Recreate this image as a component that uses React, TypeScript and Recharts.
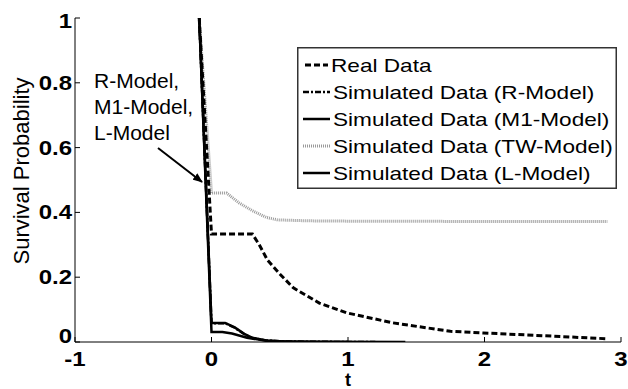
import React from "react";
import { LineChart, Line, XAxis, YAxis } from "recharts";

// ---- data ----
const realT = [-0.09, 0, 0.3, 0.35, 0.41, 0.5, 0.6, 0.79, 0.99, 1.33, 1.75, 1.99, 2.5, 2.9];
const realV = [1, 0.333, 0.333, 0.3, 0.253, 0.21, 0.167, 0.12, 0.09, 0.059, 0.033, 0.028, 0.018, 0.01];

const rT = [-0.09, 0, 0.1, 0.17, 0.24, 0.3, 0.4, 0.5, 0.8, 1.2];
const rV = [1, 0.058, 0.058, 0.044, 0.024, 0.012, 0.005, 0.002, 0.0005, 0];

const m1T = [-0.09, 0, 0.1, 0.17, 0.24, 0.3, 0.4, 0.5, 0.8, 1.42];
const m1V = [1, 0.059, 0.059, 0.045, 0.025, 0.013, 0.005, 0.002, 0.0005, 0];

const twT = [-0.09, 0, 0.11, 0.2, 0.3, 0.4, 0.48, 0.7, 1.0, 2.0, 2.9];
const twV = [1, 0.46, 0.46, 0.43, 0.405, 0.385, 0.377, 0.374, 0.373, 0.372, 0.372];

const lT = [-0.09, 0, 0.08, 0.15, 0.26, 0.4, 0.6, 1.0];
const lV = [1, 0.031, 0.031, 0.026, 0.013, 0.004, 0.001, 0];

const tTicks = [-1, 0, 1, 2, 3];
const pTicks = [0, 0.2, 0.4, 0.6, 0.8, 1];

const seriesNames = [
  "Real Data",
  "Simulated Data (R-Model)",
  "Simulated Data (M1-Model)",
  "Simulated Data (TW-Model)",
  "Simulated Data (L-Model)",
];
const annotationLines = ["R-Model,", "M1-Model,", "L-Model"];

const zip = (ts: number[], vs: number[]) => ts.map((t, i) => ({ t, v: vs[i] }));
const realData = zip(realT, realV);
const rData = zip(rT, rV);
const m1Data = zip(m1T, m1V);
const twData = zip(twT, twV);
const lData = zip(lT, lV);

const FONT = "'Liberation Sans', Arial, sans-serif";

const styles = [
  { stroke: "#000", width: 3, dash: "6 3" },
  { stroke: "#000", width: 2.5, dash: "6 2 2 2" },
  { stroke: "#000", width: 2.5, dash: undefined as string | undefined },
  { stroke: "#9a9a9a", width: 3, dash: "1 1" },
  { stroke: "#000", width: 2.5, dash: undefined as string | undefined },
];

const BottomTick = (props: any) => {
  const { x, y, payload } = props;
  return (
    <g>
      <line x1={x} y1={y} x2={x} y2={y - 5} stroke="#000" strokeWidth={1} />
      <text
        transform={`translate(${x},${y + 24}) scale(1.2,1)`}
        textAnchor="middle"
        fontFamily={FONT}
        fontWeight="bold"
        fontSize={20}
        fill="#000"
      >
        {String(payload.value)}
      </text>
    </g>
  );
};

const TopTick = (props: any) => {
  const { x, y } = props;
  return <line x1={x} y1={y} x2={x} y2={y + 5} stroke="#000" strokeWidth={1} />;
};

const LeftTick = (props: any) => {
  const { x, y, payload } = props;
  let dy = 7;
  if (payload.value === 0) dy = 1;
  if (payload.value === 1) dy = 10;
  return (
    <g>
      <line x1={x} y1={y} x2={x + 5} y2={y} stroke="#000" strokeWidth={1} />
      <text
        transform={`translate(${x - 3},${y + dy}) scale(1.2,1)`}
        textAnchor="end"
        fontFamily={FONT}
        fontWeight="bold"
        fontSize={20}
        fill="#000"
      >
        {String(payload.value)}
      </text>
    </g>
  );
};

const RightTick = (props: any) => {
  const { x, y } = props;
  return <line x1={x} y1={y} x2={x - 5} y2={y} stroke="#000" strokeWidth={1} />;
};

const LegendBox = () => {
  const rowY = [18, 45, 72, 99, 126];
  return (
    <svg width={320} height={142} style={{ display: "block" }}>
      <rect x={0.75} y={0.75} width={318.5} height={140.5} fill="#fff" stroke="#333" strokeWidth={1.5} />
      {seriesNames.map((name, i) => (
        <g key={name}>
          <line
            x1={i === 0 ? 8 : 6}
            x2={i === 0 ? 31 : 33}
            y1={rowY[i]}
            y2={rowY[i]}
            stroke={styles[i].stroke}
            strokeWidth={styles[i].width}
            strokeDasharray={styles[i].dash}
          />
          <text
            transform={`translate(${i === 0 ? 34 : 36},${rowY[i] + 7}) scale(1.19,1)`}
            fontFamily={FONT}
            fontSize={19}
            fill="#000"
          >
            {name}
          </text>
        </g>
      ))}
    </svg>
  );
};

export default function App() {
  return (
    <div style={{ position: "absolute", left: 0, top: 0, width: 628, height: 389, background: "#fff" }}>
      <LineChart width={628} height={389} margin={{ top: 18, right: 7, bottom: 0, left: 0 }}>
        <XAxis
          xAxisId="b"
          dataKey="t"
          type="number"
          domain={[-1, 3]}
          ticks={tTicks}
          allowDataOverflow
          height={47}
          tickLine={false}
          tickSize={0}
          tickMargin={0}
          tick={<BottomTick />}
          axisLine={{ stroke: "#000", strokeWidth: 1 }}
          interval={0}
          label={(p: any) => (
            <text x={348} y={386} textAnchor="middle" fontFamily={FONT} fontWeight="bold" fontSize={18} fill="#000">
              t
            </text>
          )}
        />
        <XAxis
          xAxisId="top"
          orientation="top"
          dataKey="t"
          type="number"
          domain={[-1, 3]}
          ticks={tTicks}
          allowDataOverflow
          height={0}
          tickLine={false}
          tickSize={0}
          tickMargin={0}
          tick={<TopTick />}
          axisLine={{ stroke: "#000", strokeWidth: 1 }}
          interval={0}
        />
        <YAxis
          yAxisId="l"
          type="number"
          domain={[0, 1]}
          ticks={pTicks}
          allowDataOverflow
          width={75}
          tickLine={false}
          tickSize={0}
          tickMargin={0}
          tick={<LeftTick />}
          axisLine={{ stroke: "#000", strokeWidth: 1 }}
          interval={0}
          label={(p: any) => (
            <text
              transform="translate(29,171) rotate(-90)"
              textAnchor="middle"
              fontFamily={FONT}
              fontSize={22}
              fill="#000"
            >
              Survival Probability
            </text>
          )}
        />
        <YAxis
          yAxisId="r"
          orientation="right"
          type="number"
          domain={[0, 1]}
          ticks={pTicks}
          allowDataOverflow
          width={0}
          tickLine={false}
          tickSize={0}
          tickMargin={0}
          tick={<RightTick />}
          axisLine={{ stroke: "#000", strokeWidth: 1 }}
          interval={0}
        />
        <Line xAxisId="b" yAxisId="l" data={twData} dataKey="v" name={seriesNames[3]} type="linear" dot={false} activeDot={false}
          stroke={styles[3].stroke} strokeWidth={styles[3].width} strokeDasharray={styles[3].dash} isAnimationActive={false} />
        <Line xAxisId="b" yAxisId="l" data={realData} dataKey="v" name={seriesNames[0]} type="linear" dot={false} activeDot={false}
          stroke={styles[0].stroke} strokeWidth={styles[0].width} strokeDasharray={styles[0].dash} isAnimationActive={false} />
        <Line xAxisId="b" yAxisId="l" data={rData} dataKey="v" name={seriesNames[1]} type="linear" dot={false} activeDot={false}
          stroke={styles[1].stroke} strokeWidth={styles[1].width} strokeDasharray={styles[1].dash} isAnimationActive={false} />
        <Line xAxisId="b" yAxisId="l" data={m1Data} dataKey="v" name={seriesNames[2]} type="linear" dot={false} activeDot={false}
          stroke={styles[2].stroke} strokeWidth={styles[2].width} isAnimationActive={false} />
        <Line xAxisId="b" yAxisId="l" data={lData} dataKey="v" name={seriesNames[4]} type="linear" dot={false} activeDot={false}
          stroke={styles[4].stroke} strokeWidth={styles[4].width} isAnimationActive={false} />
      </LineChart>
      <div style={{ position: "absolute", left: 297, top: 47 }}>
        <LegendBox />
      </div>
      <svg width={628} height={389} style={{ position: "absolute", left: 0, top: 0, pointerEvents: "none" }}>
        <defs>
          <marker id="ah" markerWidth={10} markerHeight={8} refX={9} refY={4} orient="auto" markerUnits="userSpaceOnUse">
            <path d="M0,0 L10,4 L0,8 Z" fill="#000" />
          </marker>
        </defs>
        {annotationLines.map((s, i) => (
          <text key={s} x={94} y={88 + i * 26} fontFamily={FONT} fontSize={21} fill="#000">
            {s}
          </text>
        ))}
        <line x1={158} y1={148} x2={202} y2={182} stroke="#000" strokeWidth={2} markerEnd="url(#ah)" />
      </svg>
    </div>
  );
}
